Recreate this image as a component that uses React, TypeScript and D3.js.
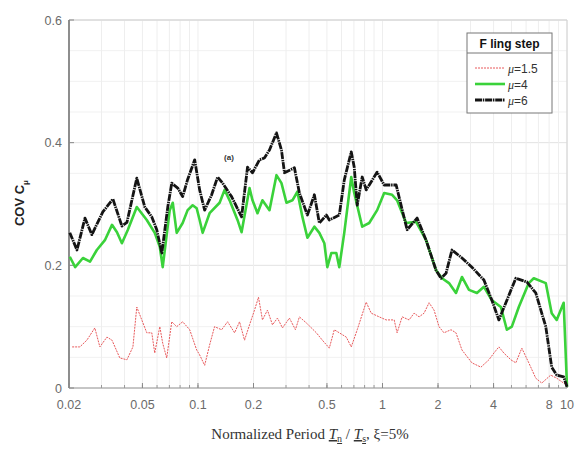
import React from "react";
import * as d3 from "d3";

const periods6 = [0.0202,0.0221,0.0244,0.0266,0.0305,0.0346,0.0387,0.0412,0.0466,0.0515,0.0562,0.0598,0.0637,0.0686,0.0721,0.0777,0.0826,0.0879,0.096,0.1021,0.1087,0.1186,0.1278,0.136,0.1521,0.1723,0.1856,0.1975,0.2154,0.229,0.2441,0.2663,0.2835,0.2943,0.3332,0.3546,0.3918,0.4274,0.4548,0.4963,0.515,0.5833,0.6206,0.6772,0.7029,0.7297,0.7764,0.816,0.9358,1.021,1.186,1.231,1.36,1.54,1.723,1.951,2.076,2.21,2.38,2.696,3.053,3.546,3.918,4.274,4.663,5.28,6.055,6.772,7.673,8.262,8.792,9.594,10];
const cov6 = [0.253,0.225,0.277,0.25,0.287,0.308,0.264,0.27,0.342,0.295,0.279,0.258,0.22,0.295,0.334,0.326,0.312,0.34,0.372,0.323,0.29,0.315,0.344,0.334,0.312,0.279,0.36,0.351,0.372,0.375,0.388,0.416,0.388,0.351,0.359,0.318,0.282,0.315,0.269,0.282,0.274,0.282,0.339,0.385,0.36,0.298,0.344,0.323,0.352,0.331,0.331,0.311,0.258,0.277,0.241,0.192,0.179,0.187,0.225,0.212,0.197,0.176,0.143,0.111,0.139,0.179,0.173,0.155,0.1,0.034,0.021,0.018,0.002];

const periods4 = [0.0202,0.0216,0.0238,0.026,0.0283,0.0313,0.0342,0.0364,0.0387,0.0417,0.0466,0.0528,0.0583,0.0621,0.0644,0.0703,0.073,0.0767,0.0826,0.0879,0.0936,0.0984,0.1021,0.106,0.1156,0.131,0.1394,0.1484,0.1638,0.1723,0.1903,0.1975,0.2102,0.2236,0.2441,0.2663,0.2835,0.3017,0.325,0.3458,0.3681,0.3918,0.4274,0.4548,0.4841,0.5024,0.528,0.562,0.5833,0.6206,0.6772,0.7029,0.7764,0.8472,0.9358,1.021,1.128,1.2,1.343,1.521,1.723,1.951,2.102,2.293,2.502,2.696,2.943,3.25,3.546,3.918,4.382,4.721,5.024,5.48,6.208,6.606,7.673,8.262,8.792,9.594,10];
const cov4 = [0.214,0.197,0.212,0.206,0.225,0.241,0.266,0.254,0.236,0.258,0.295,0.274,0.253,0.23,0.197,0.29,0.302,0.253,0.269,0.29,0.298,0.293,0.274,0.253,0.285,0.302,0.323,0.306,0.274,0.254,0.326,0.306,0.285,0.306,0.29,0.347,0.334,0.302,0.306,0.32,0.279,0.245,0.263,0.253,0.236,0.197,0.22,0.22,0.197,0.253,0.344,0.318,0.263,0.269,0.29,0.318,0.315,0.306,0.269,0.271,0.241,0.192,0.179,0.171,0.155,0.181,0.16,0.155,0.165,0.143,0.132,0.095,0.1,0.132,0.171,0.179,0.171,0.122,0.111,0.139,0.002];

const periods15 = [0.0208,0.0229,0.025,0.0276,0.0294,0.0321,0.0342,0.0377,0.0412,0.0444,0.0466,0.0496,0.0528,0.0562,0.0583,0.0621,0.0644,0.0677,0.0721,0.0767,0.0826,0.0902,0.0984,0.1021,0.1087,0.1156,0.123,0.1343,0.1447,0.1579,0.168,0.1788,0.1903,0.2025,0.2128,0.2236,0.238,0.2534,0.2696,0.2871,0.3131,0.3374,0.3546,0.3869,0.4382,0.4721,0.515,0.548,0.5833,0.6364,0.6772,0.7297,0.816,0.8686,0.9594,1.047,1.157,1.2,1.278,1.394,1.484,1.579,1.68,1.788,1.903,2.025,2.154,2.351,2.502,2.696,3.053,3.416,3.774,4.016,4.274,4.548,4.963,5.28,5.69,6.208,6.772,7.297,8.16,8.792,9.594,10];
const cov15 = [0.067,0.067,0.078,0.098,0.067,0.083,0.078,0.049,0.046,0.067,0.132,0.111,0.09,0.09,0.057,0.1,0.073,0.049,0.108,0.1,0.108,0.095,0.062,0.054,0.037,0.07,0.1,0.095,0.108,0.09,0.108,0.078,0.103,0.127,0.148,0.111,0.127,0.103,0.114,0.098,0.114,0.095,0.116,0.106,0.09,0.078,0.065,0.095,0.09,0.083,0.067,0.095,0.14,0.122,0.116,0.111,0.111,0.09,0.116,0.111,0.122,0.116,0.122,0.139,0.127,0.1,0.09,0.095,0.09,0.062,0.041,0.034,0.046,0.057,0.067,0.057,0.046,0.041,0.065,0.041,0.016,0.008,0.021,0.016,0.008,0.005];

const xTickValues = [0.02, 0.05, 0.1, 0.2, 0.5, 1, 2, 4, 8, 10];
const xTickLabels = ["0.02", "0.05", "0.1", "0.2", "0.5", "1", "2", "4", "8", "10"];
const yTickValues = [0, 0.2, 0.4, 0.6];
const yTickLabels = ["0", "0.2", "0.4", "0.6"];
const legendLabels = ["1.5", "4", "6"];
const legendTitle = "F ling step";

export default function App() {
  const left = 69, right = 567, top = 20, bottom = 388;
  const x = d3.scaleLog().domain([0.02, 10]).range([left, right]);
  const y = d3.scaleLinear().domain([0, 0.6]).range([bottom, top]);

  const minorX: number[] = [];
  for (let e = -2; e <= 0; e++) {
    for (let m = 1; m <= 9; m++) {
      const v = m * Math.pow(10, e);
      if (v >= 0.02 && v <= 10) minorX.push(v);
    }
  }
  minorX.push(10);
  const minorY = d3.range(0, 0.6001, 0.05);

  const line = d3.line<[number, number]>().x((d) => x(d[0])).y((d) => y(d[1]));
  const s15 = periods15.map((p, i) => [p, cov15[i]] as [number, number]);
  const s4 = periods4.map((p, i) => [p, cov4[i]] as [number, number]);
  const s6 = periods6.map((p, i) => [p, cov6[i]] as [number, number]);

  const styles = [
    { stroke: "#e8585a", width: 1, dash: "2,1" },
    { stroke: "#3ad23a", width: 2.6, dash: "" },
    { stroke: "#141414", width: 2.8, dash: "7,0.8,1.5,0.8" },
  ];

  const lx = 467, ly = 33, lw = 85, lh = 80;

  return (
    <svg width={575} height={450} style={{ position: "absolute", left: 0, top: 0, background: "#fff" }}>
      <rect x={0} y={0} width={575} height={450} fill="#fff" />
      {minorY.map((v, i) => (
        <line key={"gy" + i} x1={left} x2={right} y1={y(v)} y2={y(v)} stroke={Math.abs((v * 10) % 2) < 0.01 ? "#e2e2e2" : "#f1f1f1"} strokeWidth={1} />
      ))}
      {minorX.map((v, i) => (
        <line key={"gx" + i} x1={x(v)} x2={x(v)} y1={top} y2={bottom} stroke="#eeeeee" strokeWidth={1} />
      ))}
      <line x1={left} x2={right} y1={top} y2={top} stroke="#d0d0d0" />
      <line x1={right} x2={right} y1={top} y2={bottom} stroke="#d0d0d0" />
      <line x1={left} x2={right} y1={bottom} y2={bottom} stroke="#9a9a9a" />
      <line x1={left} x2={left} y1={top} y2={bottom} stroke="#555" strokeWidth={1.3} />
      {minorX.map((v, i) => (
        <line key={"tx" + i} x1={x(v)} x2={x(v)} y1={bottom} y2={bottom - 3} stroke="#999" />
      ))}
      {xTickValues.map((v, i) => (
        <line key={"tX" + i} x1={x(v)} x2={x(v)} y1={bottom} y2={bottom - 5} stroke="#888" />
      ))}
      {yTickValues.map((v, i) => (
        <line key={"tY" + i} x1={left} x2={left + 5} y1={y(v)} y2={y(v)} stroke="#888" />
      ))}
      {xTickValues.map((v, i) => (
        <text key={"lx" + i} x={x(v)} y={409} textAnchor="middle" fontFamily="Liberation Sans, Arial, sans-serif" fontSize={12.5} fill="#6a6a6a">{xTickLabels[i]}</text>
      ))}
      {yTickValues.map((v, i) => (
        <text key={"ly" + i} x={62} y={y(v) + 4.5} textAnchor="end" fontFamily="Liberation Sans, Arial, sans-serif" fontSize={12.5} fill="#6a6a6a">{yTickLabels[i]}</text>
      ))}
      <path d={line(s15) || ""} fill="none" stroke={styles[0].stroke} strokeWidth={styles[0].width} strokeDasharray={styles[0].dash} strokeLinejoin="round" />
      <path d={line(s4) || ""} fill="none" stroke={styles[1].stroke} strokeWidth={styles[1].width} strokeLinejoin="round" />
      <path d={line(s6) || ""} fill="none" stroke={styles[2].stroke} strokeWidth={styles[2].width} strokeDasharray={styles[2].dash} strokeLinejoin="round" />
      <text x={229} y={160} textAnchor="middle" fontFamily="Liberation Sans, Arial, sans-serif" fontSize={8} fontWeight="bold" fill="#333">(a)</text>
      <rect x={lx} y={ly} width={lw} height={lh} fill="#fff" stroke="#777" strokeWidth={1} />
      <line x1={lx} x2={lx + lw} y1={ly + 20} y2={ly + 20} stroke="#777" />
      <text x={lx + lw / 2} y={ly + 15} textAnchor="middle" fontFamily="Liberation Sans, Arial, sans-serif" fontSize={12} fontWeight="bold" fill="#111">{legendTitle}</text>
      {legendLabels.map((lab, i) => {
        const yy = ly + 35 + i * 16;
        const st = styles[i];
        return (
          <g key={"lg" + i}>
            <line x1={lx + 8} x2={lx + 38} y1={yy} y2={yy} stroke={st.stroke} strokeWidth={st.width} strokeDasharray={st.dash} />
            <text x={lx + 41} y={yy + 4.5} fontFamily="Liberation Sans, Arial, sans-serif" fontSize={12} fill="#333">
              <tspan fontStyle="italic" fontFamily="Liberation Serif, serif">μ</tspan>={lab}
            </text>
          </g>
        );
      })}
      <text transform="translate(24,203) rotate(-90)" textAnchor="middle" fontFamily="Liberation Sans, Arial, sans-serif" fontSize={13} fontWeight="bold" fill="#222">
        COV C<tspan dy={4} fontSize={8}>μ</tspan>
      </text>
      <text x={310} y={439} textAnchor="middle" fontFamily="Liberation Serif, DejaVu Serif, serif" fontSize={15} fill="#333">
        Normalized Period <tspan fontStyle="italic" textDecoration="underline" fill="#333">T</tspan><tspan fontSize={10} dy={3} textDecoration="underline">n</tspan><tspan dy={-3}> / </tspan><tspan fontStyle="italic" textDecoration="underline">T</tspan><tspan fontSize={10} dy={3} textDecoration="underline">s</tspan><tspan dy={-3}>, ξ=5%</tspan>
      </text>
    </svg>
  );
}
